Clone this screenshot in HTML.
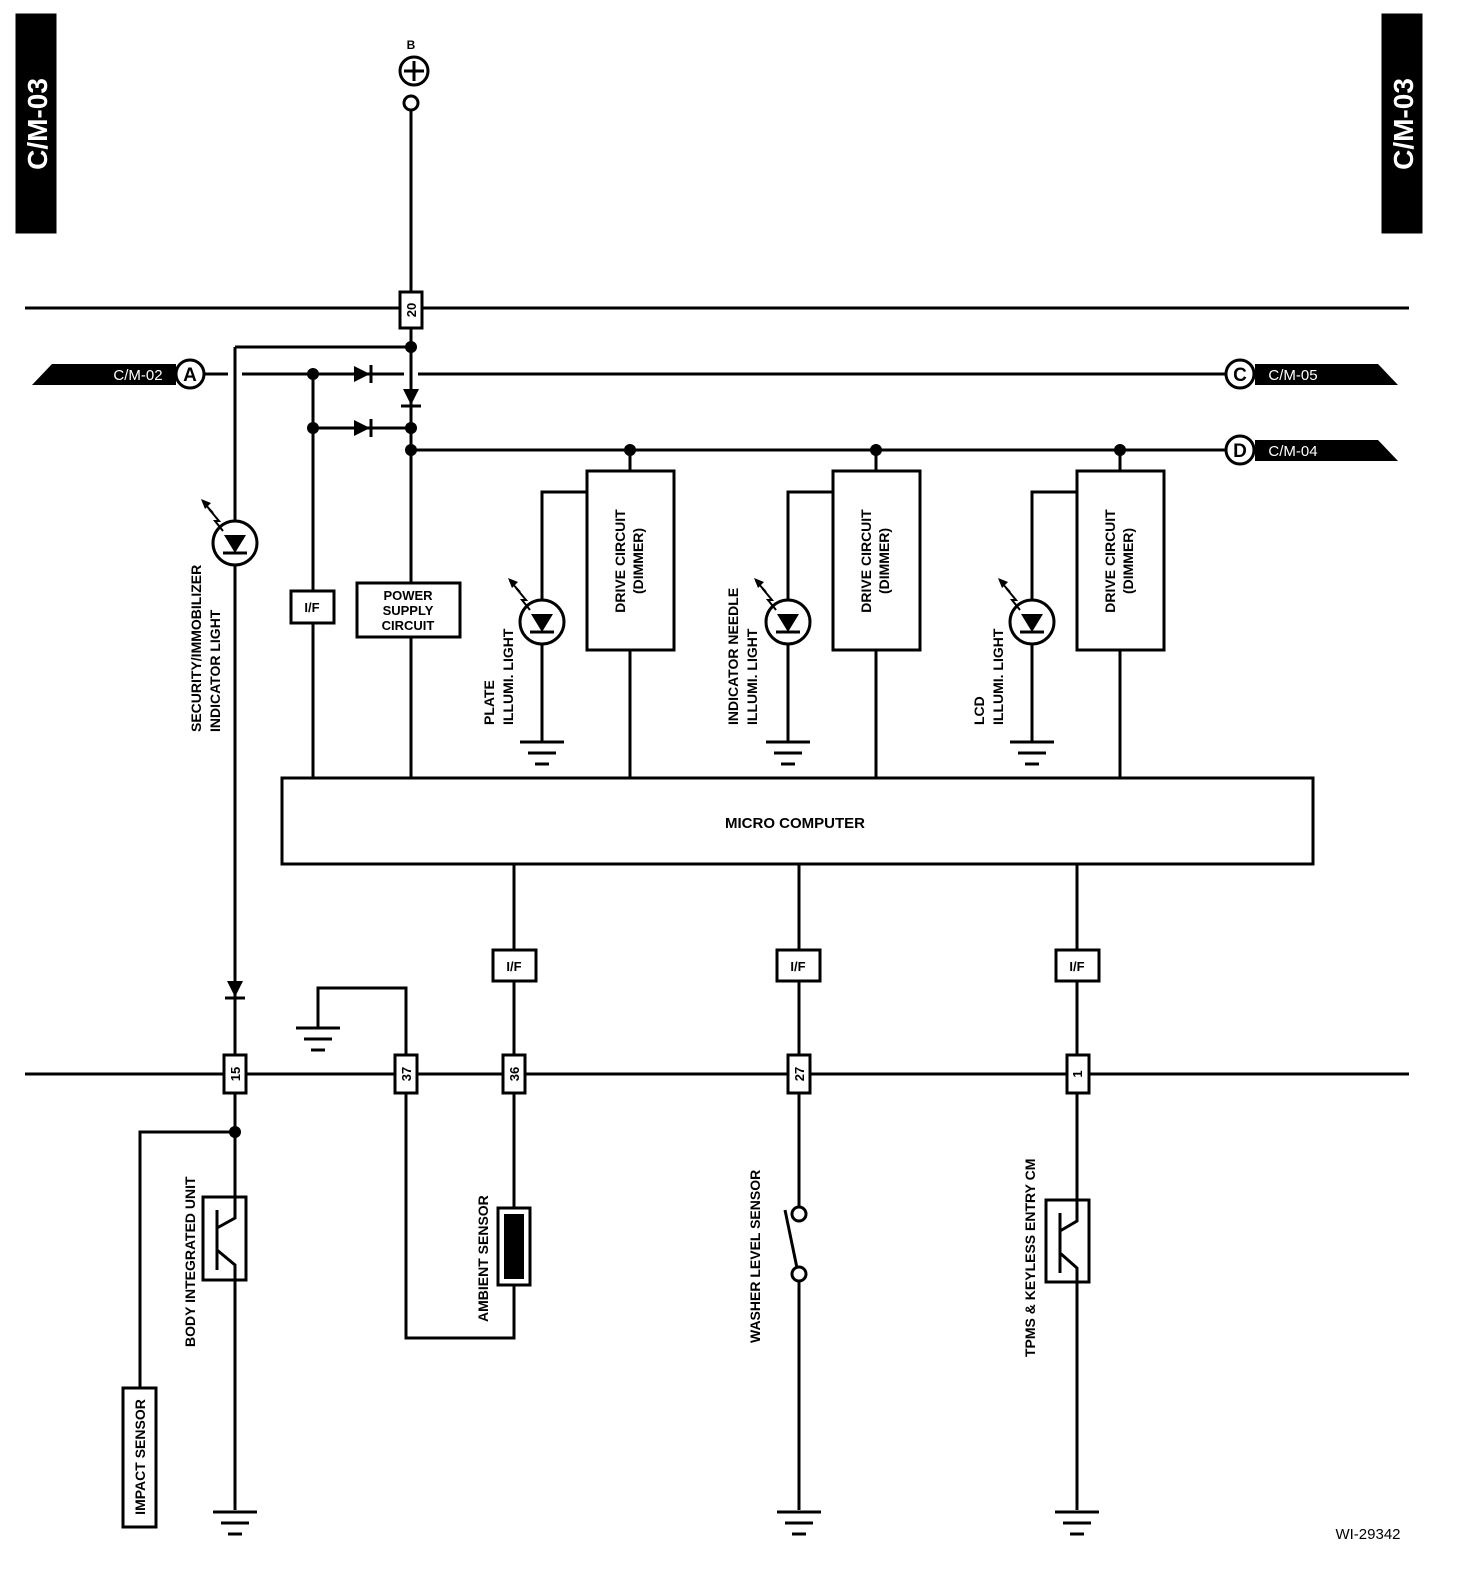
<!DOCTYPE html>
<html><head><meta charset="utf-8"><style>
html,body{margin:0;padding:0;background:#fff;}
svg{display:block;}
text{font-family:"Liberation Sans",sans-serif;font-weight:bold;fill:#000;}
</style></head><body>
<svg width="1472" height="1594" viewBox="0 0 1472 1594" xmlns="http://www.w3.org/2000/svg">
<defs>
<g id="gnd"><line x1="-22" y1="0" x2="22" y2="0"/><line x1="-14" y1="11" x2="14" y2="11"/><line x1="-7" y1="22" x2="7" y2="22"/></g>
<g id="led"><circle cx="0" cy="0" r="22" fill="#fff"/><polygon points="-11,-8 11,-8 0,10" fill="#000" stroke="none"/><line x1="-12" y1="10" x2="12" y2="10"/>
<polyline points="-26,-34 -16,-22 -20,-22 -12,-12" fill="none" stroke-width="2"/><polygon points="-34,-44 -24,-40 -30,-34" fill="#000" stroke="none"/><line x1="-32" y1="-41" x2="-22" y2="-30" stroke-width="2"/></g>
<g id="dr"><polygon points="-8,-8 -8,8 8,0" fill="#000" stroke="none"/><line x1="9" y1="-9" x2="9" y2="9"/></g>
<g id="dd"><polygon points="-8,-8 8,-8 0,8" fill="#000" stroke="none"/><line x1="-10" y1="9" x2="10" y2="9"/></g>
</defs>
<g stroke="#000" stroke-width="3" fill="none">
<!-- tabs -->
<rect x="17" y="15" width="38" height="217" fill="#000"/>
<rect x="1383" y="15" width="38" height="217" fill="#000"/>
<!-- B -->
<circle cx="414" cy="71" r="14"/><line x1="404" y1="71" x2="424" y2="71"/><line x1="414" y1="61" x2="414" y2="81"/>
<circle cx="411" cy="103" r="7"/>
<line x1="411" y1="110" x2="411" y2="292"/>
<!-- top bus -->
<line x1="25" y1="308" x2="400" y2="308"/><line x1="422" y1="308" x2="1409" y2="308"/>
<rect x="400" y="292" width="22" height="36" fill="#fff"/>
<line x1="411" y1="328" x2="411" y2="778"/>
<line x1="235" y1="347" x2="411" y2="347"/>
<line x1="235" y1="347" x2="235" y2="1055"/>
<!-- A line -->
<polygon points="32,385 52,364 176,364 176,385" fill="#000" stroke="none"/>
<circle cx="190" cy="374" r="14" fill="#fff"/>
<line x1="204" y1="374" x2="228" y2="374"/><line x1="242" y1="374" x2="404" y2="374"/><line x1="418" y1="374" x2="1226" y2="374"/>
<circle cx="1240" cy="374" r="14" fill="#fff"/>
<polygon points="1255,364 1378,364 1398,385 1255,385" fill="#000" stroke="none"/>
<!-- D line -->
<line x1="411" y1="450" x2="1226" y2="450"/>
<circle cx="1240" cy="450" r="14" fill="#fff"/>
<polygon points="1255,440 1378,440 1398,461 1255,461" fill="#000" stroke="none"/>
<line x1="313" y1="374" x2="313" y2="778"/>
<line x1="313" y1="428" x2="411" y2="428"/>
<rect x="291" y="591" width="43" height="32" fill="#fff"/>
<rect x="357" y="583" width="103" height="54" fill="#fff"/>
<!-- drive circuits -->
<g id="dc">
<line x1="630" y1="450" x2="630" y2="471"/>
<rect x="587" y="471" width="87" height="179"/>
<line x1="630" y1="650" x2="630" y2="778"/>
<polyline points="587,492 542,492 542,742"/>
<use href="#gnd" x="542" y="742"/>
<use href="#led" x="542" y="622"/>
</g>
<use href="#dc" x="246"/>
<use href="#dc" x="490"/>
<rect x="282" y="778" width="1031" height="86"/>
<!-- bottom verticals -->
<line x1="514" y1="864" x2="514" y2="1285"/>
<line x1="799" y1="864" x2="799" y2="1207"/>
<line x1="1077" y1="864" x2="1077" y2="1510"/>
<rect x="493" y="950" width="43" height="31" fill="#fff"/>
<rect x="777" y="950" width="43" height="31" fill="#fff"/>
<rect x="1056" y="950" width="43" height="31" fill="#fff"/>
<!-- bottom bus -->
<line x1="25" y1="1074" x2="1409" y2="1074"/>
<polyline points="318,1028 318,988 406,988 406,1338 514,1338 514,1285"/>
<use href="#gnd" x="318" y="1028"/>
<rect x="224" y="1055" width="22" height="38" fill="#fff"/>
<rect x="395" y="1055" width="22" height="38" fill="#fff"/>
<rect x="503" y="1055" width="22" height="38" fill="#fff"/>
<rect x="788" y="1055" width="22" height="38" fill="#fff"/>
<rect x="1067" y="1055" width="22" height="38" fill="#fff"/>
<line x1="235" y1="1093" x2="235" y2="1510"/>
<polyline points="235,1132 140,1132 140,1388"/>
<rect x="123" y="1388" width="33" height="139" fill="#fff"/>
<!-- transistors -->
<rect x="203" y="1197" width="43" height="83" fill="#fff"/>
<line x1="217" y1="1210" x2="217" y2="1270"/>
<polyline points="235,1197 235,1218 217,1228"/><polyline points="217,1250 235,1265 235,1280"/>
<rect x="1046" y="1200" width="43" height="82" fill="#fff"/>
<line x1="1060" y1="1213" x2="1060" y2="1273"/>
<polyline points="1077,1200 1077,1221 1060,1231"/><polyline points="1060,1253 1077,1268 1077,1282"/>
<!-- ambient -->
<rect x="498" y="1208" width="32" height="77" fill="#fff"/>
<rect x="504" y="1214" width="20" height="65" fill="#000" stroke="none"/>
<!-- washer switch -->
<circle cx="799" cy="1214" r="7" fill="#fff"/>
<circle cx="799" cy="1274" r="7" fill="#fff"/>
<line x1="797" y1="1268" x2="785" y2="1210"/>
<line x1="799" y1="1281" x2="799" y2="1510"/>
<use href="#gnd" x="235" y="1512"/>
<use href="#gnd" x="799" y="1512"/>
<use href="#gnd" x="1077" y="1512"/>
</g>
<!-- dots -->
<g fill="#000">
<circle cx="411" cy="347" r="6"/><circle cx="313" cy="374" r="6"/><circle cx="313" cy="428" r="6"/>
<circle cx="411" cy="428" r="6"/><circle cx="411" cy="450" r="6"/><circle cx="630" cy="450" r="6"/>
<circle cx="876" cy="450" r="6"/><circle cx="1120" cy="450" r="6"/><circle cx="235" cy="1132" r="6"/>
</g>
<g stroke="#000" stroke-width="3">
<use href="#dr" x="362" y="374"/><use href="#dr" x="362" y="428"/>
<use href="#dd" x="411" y="397"/><use href="#dd" x="235" y="989"/>
<use href="#led" x="235" y="543"/>
</g>
<!-- text -->
<text transform="translate(47,124) rotate(-90)" text-anchor="middle" font-size="28" style="fill:#fff">C/M-03</text>
<text transform="translate(1413,124) rotate(-90)" text-anchor="middle" font-size="28" style="fill:#fff">C/M-03</text>
<text x="411" y="49" text-anchor="middle" font-size="12">B</text>
<text x="138" y="380" text-anchor="middle" font-size="15" style="fill:#fff;font-weight:normal">C/M-02</text>
<text x="1293" y="380" text-anchor="middle" font-size="15" style="fill:#fff;font-weight:normal">C/M-05</text>
<text x="1293" y="456" text-anchor="middle" font-size="15" style="fill:#fff;font-weight:normal">C/M-04</text>
<text x="190" y="381" text-anchor="middle" font-size="19">A</text>
<text x="1240" y="381" text-anchor="middle" font-size="19">C</text>
<text x="1240" y="457" text-anchor="middle" font-size="19">D</text>
<g font-size="13" text-anchor="middle">
<text transform="translate(416,310) rotate(-90)">20</text>
<text transform="translate(240,1074) rotate(-90)">15</text>
<text transform="translate(411,1074) rotate(-90)">37</text>
<text transform="translate(519,1074) rotate(-90)">36</text>
<text transform="translate(804,1074) rotate(-90)">27</text>
<text transform="translate(1082,1074) rotate(-90)">1</text>
<text x="312" y="612">I/F</text>
<text x="514" y="971">I/F</text>
<text x="798" y="971">I/F</text>
<text x="1077" y="971">I/F</text>
<text x="408" y="600" font-size="13">POWER</text>
<text x="408" y="615" font-size="13">SUPPLY</text>
<text x="408" y="630" font-size="13">CIRCUIT</text>
<text x="795" y="828" font-size="15">MICRO COMPUTER</text>
<text transform="translate(625,561) rotate(-90)" font-size="14">DRIVE CIRCUIT</text>
<text transform="translate(643,561) rotate(-90)" font-size="14">(DIMMER)</text>
<text transform="translate(871,561) rotate(-90)" font-size="14">DRIVE CIRCUIT</text>
<text transform="translate(889,561) rotate(-90)" font-size="14">(DIMMER)</text>
<text transform="translate(1115,561) rotate(-90)" font-size="14">DRIVE CIRCUIT</text>
<text transform="translate(1133,561) rotate(-90)" font-size="14">(DIMMER)</text>
<text transform="translate(145,1457) rotate(-90)" font-size="14">IMPACT SENSOR</text>
</g>
<g font-size="14" text-anchor="start">
<text transform="translate(201,732) rotate(-90)">SECURITY/IMMOBILIZER</text>
<text transform="translate(220,732) rotate(-90)">INDICATOR LIGHT</text>
<text transform="translate(494,725) rotate(-90)">PLATE</text>
<text transform="translate(513,725) rotate(-90)">ILLUMI. LIGHT</text>
<text transform="translate(738,725) rotate(-90)">INDICATOR NEEDLE</text>
<text transform="translate(757,725) rotate(-90)">ILLUMI. LIGHT</text>
<text transform="translate(984,725) rotate(-90)">LCD</text>
<text transform="translate(1003,725) rotate(-90)">ILLUMI. LIGHT</text>
<text transform="translate(195,1347) rotate(-90)">BODY INTEGRATED UNIT</text>
<text transform="translate(488,1322) rotate(-90)">AMBIENT SENSOR</text>
<text transform="translate(760,1343) rotate(-90)">WASHER LEVEL SENSOR</text>
<text transform="translate(1035,1357) rotate(-90)">TPMS &amp; KEYLESS ENTRY CM</text>
</g>
<text x="1368" y="1539" text-anchor="middle" font-size="15" style="font-weight:normal">WI-29342</text>
</svg>
</body></html>
